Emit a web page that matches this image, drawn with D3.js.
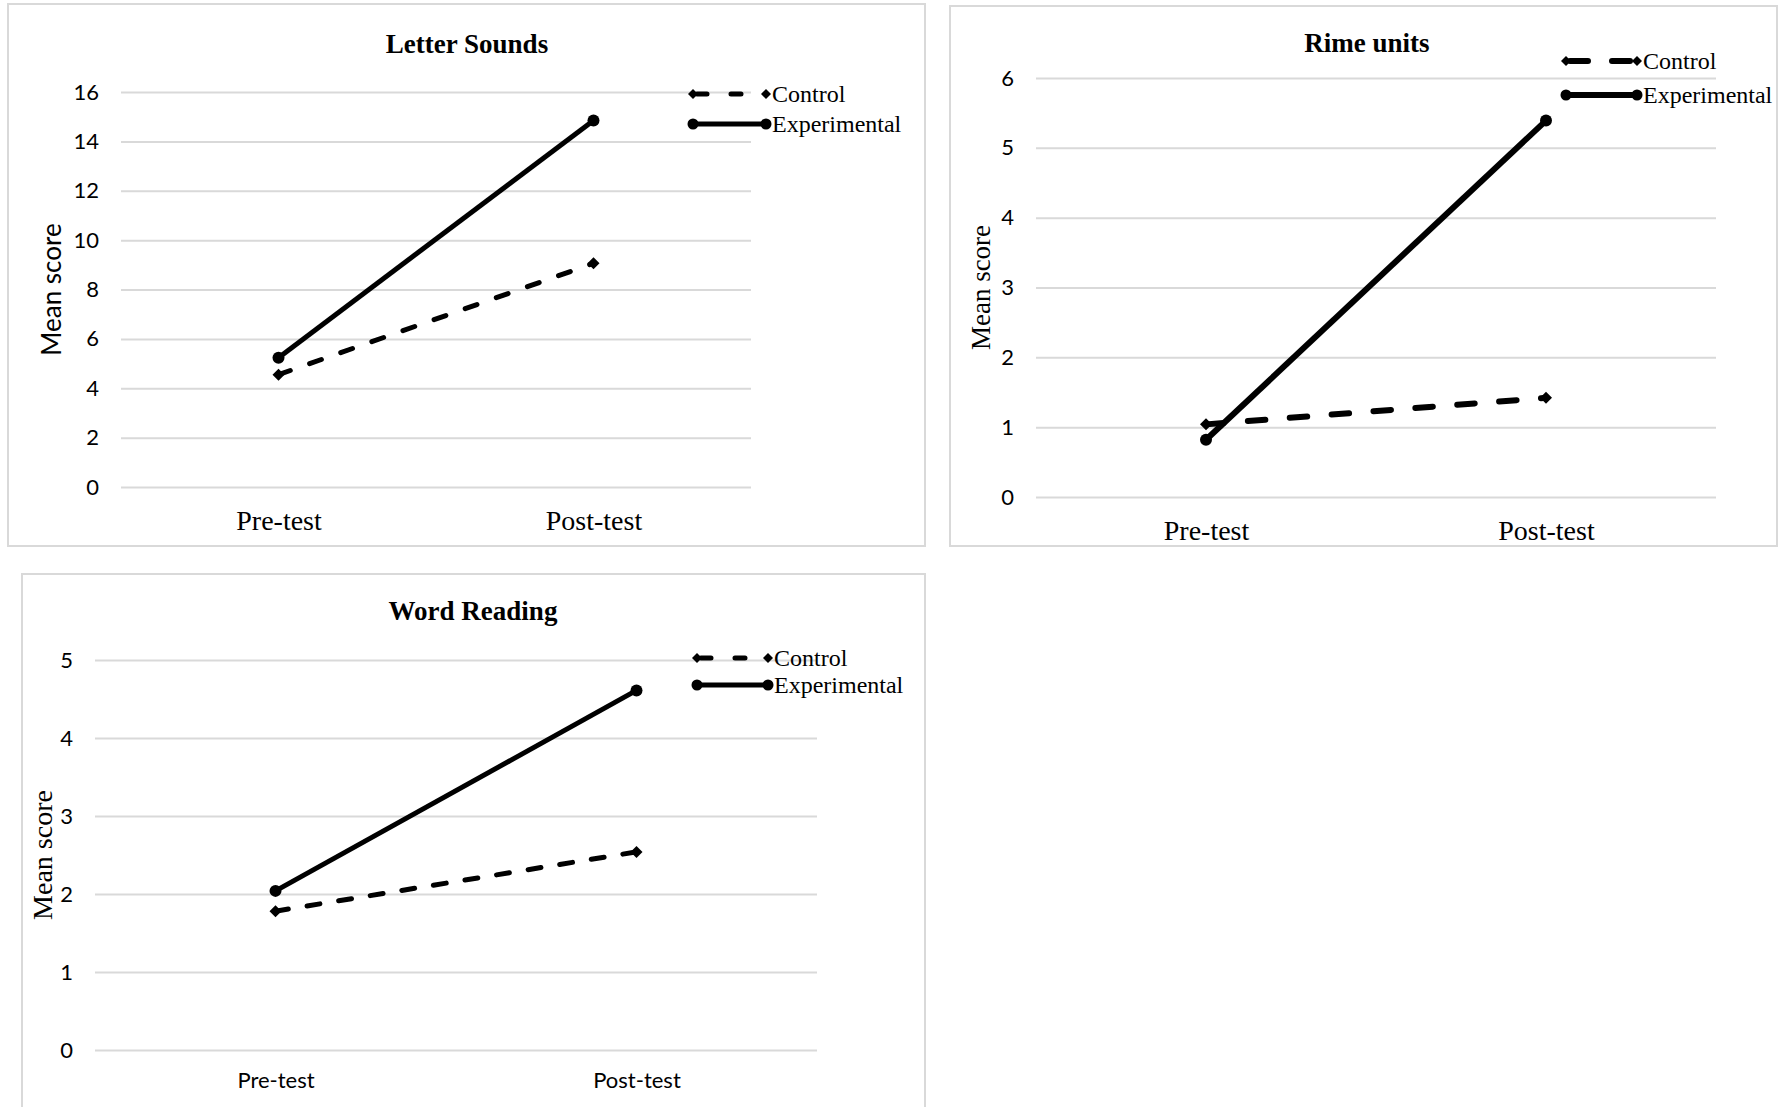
<!DOCTYPE html>
<html>
<head>
<meta charset="utf-8">
<script src="https://cdn.jsdelivr.net/npm/d3@7"></script>
<style>
  html, body { margin: 0; padding: 0; background: #fff; }
  svg { display: block; }
</style>
</head>
<body>
<svg id="chart" width="1780" height="1107"></svg>
<script>
// Test stages and groups shared by all three panels
const stages = ["Pre-test", "Post-test"];
const groups = ["Control", "Experimental"];

// Letter Sounds: mean scores
const letterControl = [4.55, 9.06];
const letterExperimental = [5.24, 14.85];
const letterTicks = [0, 2, 4, 6, 8, 10, 12, 14, 16];

// Rime units: mean scores
const rimeControl = [1.04, 1.42];
const rimeExperimental = [0.82, 5.39];
const rimeTicks = [0, 1, 2, 3, 4, 5, 6];

// Word Reading: mean scores
const wordControl = [1.78, 2.54];
const wordExperimental = [2.04, 4.61];
const wordTicks = [0, 1, 2, 3, 4, 5];

const SERIF = "'Liberation Serif', 'Times New Roman', serif";
const SANS = "Lato, 'Open Sans', sans-serif";
const GRID = "#d9d9d9";

// Panel layout: frame, plot area and per-panel typography
const panels = [
  {
    title: "Letter Sounds", control: letterControl, experimental: letterExperimental, ticks: letterTicks,
    frame: [8, 4, 917, 542],
    plot: { x0: 121, x1: 751, y0: 92, y1: 487 },
    titleY: 53, titleX: 467,
    yTitle: { x: 51, font: SANS, size: 26 },
    xLabel: { font: SERIF, size: 28, pad: 23 },
    legend: { x0: 693, x1: 766, yc: 94, ye: 124 },
    width: 5, dash: "12.5,20.5", legendDash: "10,24"
  },
  {
    title: "Rime units", control: rimeControl, experimental: rimeExperimental, ticks: rimeTicks,
    frame: [950, 6, 827, 540],
    plot: { x0: 1036, x1: 1716, y0: 78, y1: 497 },
    titleY: 52, titleX: 1367,
    yTitle: { x: 981, font: SERIF, size: 27 },
    xLabel: { font: SERIF, size: 28, pad: 23 },
    legend: { x0: 1566, x1: 1637, yc: 61, ye: 95 },
    width: 6, dash: "17.5,24.5", legendDash: "18,24"
  },
  {
    title: "Word Reading", control: wordControl, experimental: wordExperimental, ticks: wordTicks,
    frame: [22, 574, 903, 560],
    plot: { x0: 95, x1: 817, y0: 660, y1: 1050 },
    titleY: 620, titleX: 473,
    yTitle: { x: 42, font: SERIF, size: 28 },
    xLabel: { font: SANS, size: 22, pad: 22 },
    legend: { x0: 697, x1: 768, yc: 658, ye: 685 },
    width: 5, dash: "13,19", legendDash: "10,24"
  }
];

const svg = d3.select("#chart");

function diamondPath(r) {
  return `M0,${-r}L${r},0L0,${r}L${-r},0Z`;
}

panels.forEach(p => {
  const g = svg.append("g");
  const [fx, fy, fw, fh] = p.frame;

  // chart frame
  g.append("rect")
    .attr("x", fx).attr("y", fy).attr("width", fw).attr("height", fh)
    .attr("fill", "#fff").attr("stroke", GRID).attr("stroke-width", 2);

  const x = d3.scalePoint().domain(stages).range([p.plot.x0, p.plot.x1]).padding(0.5);
  const y = d3.scaleLinear().domain([0, d3.max(p.ticks)]).range([p.plot.y1, p.plot.y0]);
  const plotW = p.plot.x1 - p.plot.x0;

  // horizontal gridlines and value labels
  const yAxis = g.append("g")
    .attr("transform", `translate(${p.plot.x0},0)`)
    .call(d3.axisLeft(y).tickValues(p.ticks).tickFormat(d3.format("d"))
      .tickSizeInner(-plotW).tickSizeOuter(0).tickPadding(22));
  yAxis.select(".domain").remove();
  yAxis.selectAll(".tick line").attr("stroke", GRID).attr("stroke-width", 2);
  yAxis.selectAll(".tick text")
    .attr("fill", "#000").style("font-family", SANS).style("font-size", "22px");

  // category labels
  const xAxis = g.append("g")
    .attr("transform", `translate(0,${p.plot.y1})`)
    .call(d3.axisBottom(x).tickSize(0).tickPadding(p.xLabel.pad));
  xAxis.select(".domain").remove();
  xAxis.selectAll(".tick text")
    .attr("fill", "#000").style("font-family", p.xLabel.font)
    .style("font-size", p.xLabel.size + "px");

  // title
  g.append("text")
    .attr("x", p.titleX).attr("y", p.titleY)
    .attr("text-anchor", "middle")
    .style("font-family", SERIF).style("font-weight", "bold").style("font-size", "27px")
    .text(p.title);

  // y-axis title
  const yMid = (p.plot.y0 + p.plot.y1) / 2;
  g.append("text")
    .attr("transform", `translate(${p.yTitle.x},${yMid}) rotate(-90)`)
    .attr("text-anchor", "middle").attr("dominant-baseline", "central")
    .style("font-family", p.yTitle.font).style("font-size", p.yTitle.size + "px")
    .text("Mean score");

  const line = d3.line().x((d, i) => x(stages[i])).y(d => y(d));

  // control series (dashed, diamond markers)
  g.append("path").datum(p.control)
    .attr("d", line).attr("fill", "none").attr("stroke", "#000")
    .attr("stroke-width", p.width).attr("stroke-dasharray", p.dash)
    .attr("stroke-linecap", "round");
  g.selectAll(".mk-c").data(p.control).join("path")
    .attr("transform", (d, i) => `translate(${x(stages[i])},${y(d)})`)
    .attr("d", diamondPath(6)).attr("fill", "#000");

  // experimental series (solid, circle markers)
  g.append("path").datum(p.experimental)
    .attr("d", line).attr("fill", "none").attr("stroke", "#000")
    .attr("stroke-width", p.width);
  g.selectAll(".mk-e").data(p.experimental).join("circle")
    .attr("cx", (d, i) => x(stages[i])).attr("cy", d => y(d))
    .attr("r", 6).attr("fill", "#000");

  // legend
  const L = p.legend;
  const legendRows = [
    { name: groups[0], yy: L.yc, dashed: true },
    { name: groups[1], yy: L.ye, dashed: false }
  ];
  legendRows.forEach(r => {
    g.append("line")
      .attr("x1", L.x0).attr("x2", L.x1).attr("y1", r.yy).attr("y2", r.yy)
      .attr("stroke", "#000").attr("stroke-width", p.width)
      .attr("stroke-dasharray", r.dashed ? p.legendDash : null)
      .attr("stroke-dashoffset", r.dashed ? -4 : null)
      .attr("stroke-linecap", r.dashed ? "round" : "butt");
    [L.x0, L.x1].forEach(cx => {
      if (r.dashed) {
        g.append("path").attr("transform", `translate(${cx},${r.yy})`)
          .attr("d", diamondPath(5)).attr("fill", "#000");
      } else {
        g.append("circle").attr("cx", cx).attr("cy", r.yy).attr("r", 5.5).attr("fill", "#000");
      }
    });
    g.append("text")
      .attr("x", L.x1 + 6).attr("y", r.yy)
      .attr("dominant-baseline", "central")
      .style("font-family", SERIF).style("font-size", "24px")
      .text(r.name);
  });
});
</script>
</body>
</html>
